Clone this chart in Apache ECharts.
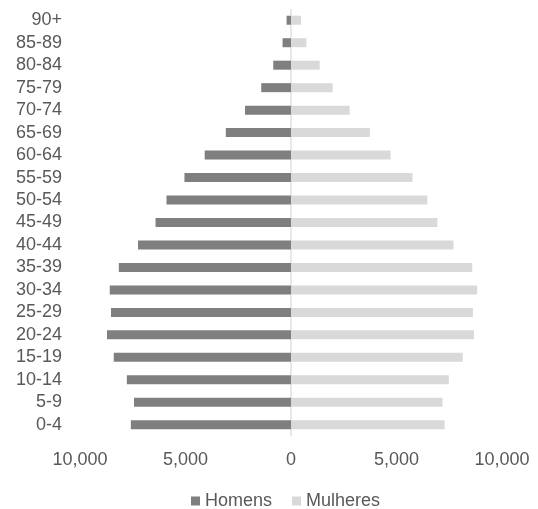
<!DOCTYPE html>
<html>
<head>
<meta charset="utf-8">
<script src="https://cdn.jsdelivr.net/npm/echarts@6/dist/echarts.min.js"></script>
<style>
  html, body { margin: 0; padding: 0; background: #fff; }
  #chart { width: 538px; height: 509px; }
</style>
</head>
<body>
<div id="chart"></div>
<script>
// faixas etárias (de baixo para cima)
const ageGroups = ["0-4", "5-9", "10-14", "15-19", "20-24", "25-29", "30-34", "35-39", "40-44",
  "45-49", "50-54", "55-59", "60-64", "65-69", "70-74", "75-79", "80-84", "85-89", "90+"];

// valores
const homens = [7590, 7440, 7780, 8400, 8720, 8530, 8590, 8160, 7250,
  6420, 5900, 5050, 4090, 3090, 2180, 1410, 840, 400, 210];
const mulheres = [7280, 7180, 7480, 8140, 8670, 8620, 8820, 8590, 7700,
  6940, 6460, 5760, 4720, 3740, 2780, 1970, 1360, 730, 470];

const textColor = "#595959";
const font = "Liberation Sans, Arial, sans-serif";

function fmt(v) {
  return Math.abs(v).toLocaleString("en-US");
}

const chart = echarts.init(document.getElementById("chart"));
chart.setOption({
  animation: false,
  textStyle: { fontFamily: font },
  grid: { left: 80, right: 36, top: 9, bottom: 73, containLabel: false },
  legend: {
    top: 487,
    left: 186,
    itemWidth: 9,
    itemHeight: 9,
    itemGap: 20,
    icon: "rect",
    textStyle: { color: textColor, fontSize: 18, fontFamily: font },
    data: ["Homens", "Mulheres"],
  },
  xAxis: {
    type: "value",
    min: -10000,
    max: 10000,
    interval: 5000,
    axisLine: { show: false },
    axisTick: { show: false },
    splitLine: { show: false },
    axisLabel: { color: textColor, fontSize: 18, margin: 15, formatter: fmt },
  },
  yAxis: {
    type: "category",
    data: ageGroups,
    axisLine: { show: false },
    axisTick: { show: false },
    axisLabel: { color: textColor, fontSize: 18, margin: 18, interval: 0 },
  },
  series: [
    {
      name: "Homens",
      type: "bar",
      data: homens.map(v => -v),
      barWidth: 9,
      barGap: "-100%",
      itemStyle: { color: "#7f7f7f" },
      markLine: {
        silent: true,
        symbol: "none",
        label: { show: false },
        lineStyle: { color: "#e0e0e0", type: "solid", width: 1.5 },
        data: [{ xAxis: 0 }],
        z: 1,
      },
    },
    {
      name: "Mulheres",
      type: "bar",
      data: mulheres,
      barWidth: 9,
      itemStyle: { color: "#d9d9d9" },
    },
  ],
});
</script>
</body>
</html>
